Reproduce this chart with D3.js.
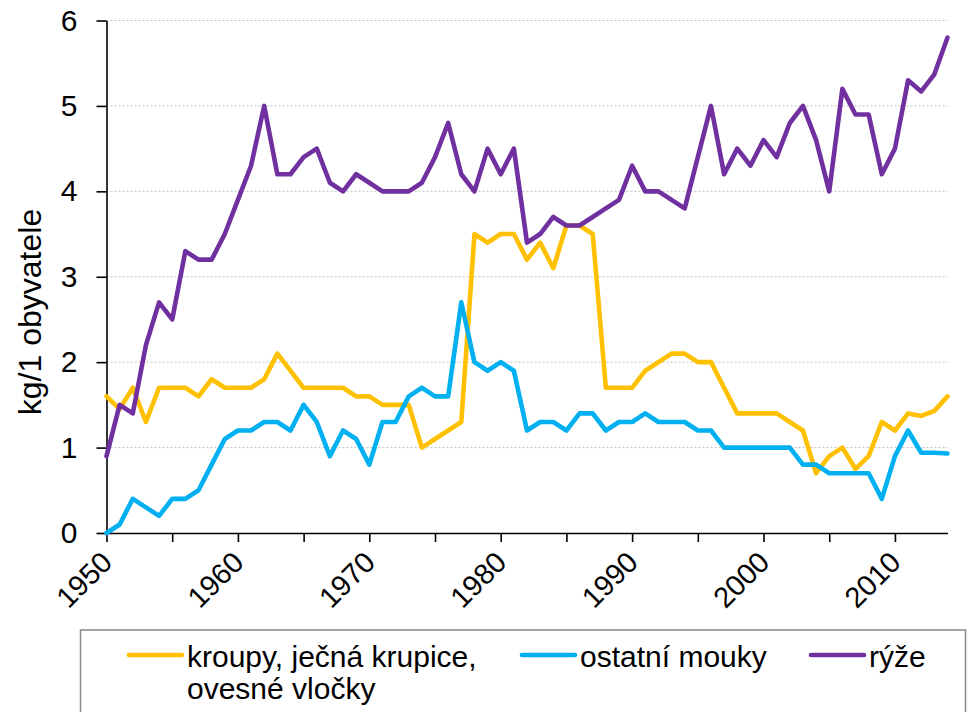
<!DOCTYPE html>
<html>
<head>
<meta charset="utf-8">
<script src="https://cdn.jsdelivr.net/npm/d3@7"></script>
<style>
    body { margin: 0; background: #fff; }
    svg { display: block; font-family: Arial, "Liberation Sans", sans-serif; }
    .grid line { stroke: #c0c0c0; stroke-dasharray: 2,2; }
    .axis path, .axis line { stroke: #000; stroke-width: 1.6; }
    .axis text { fill: #000; }
    .series { fill: none; stroke-width: 4.6; stroke-linejoin: round; stroke-linecap: round; }
</style>
</head>
<body>
<svg class="chart" width="968" height="712"></svg>
<script>
//Years on the x axis
var years = [
    1950, 1951, 1952, 1953, 1954, 1955, 1956, 1957, 1958, 1959,
    1960, 1961, 1962, 1963, 1964, 1965, 1966, 1967, 1968, 1969,
    1970, 1971, 1972, 1973, 1974, 1975, 1976, 1977, 1978, 1979,
    1980, 1981, 1982, 1983, 1984, 1985, 1986, 1987, 1988, 1989,
    1990, 1991, 1992, 1993, 1994, 1995, 1996, 1997, 1998, 1999,
    2000, 2001, 2002, 2003, 2004, 2005, 2006, 2007, 2008, 2009,
    2010, 2011, 2012, 2013, 2014
];

//kroupy, jecna krupice, ovesne vlocky
var kroupy = [
    1.6, 1.45, 1.7, 1.3, 1.7, 1.7, 1.7, 1.6, 1.8, 1.7,
    1.7, 1.7, 1.8, 2.1, 1.9, 1.7, 1.7, 1.7, 1.7, 1.6,
    1.6, 1.5, 1.5, 1.5, 1.0, 1.1, 1.2, 1.3, 3.5, 3.4,
    3.5, 3.5, 3.2, 3.4, 3.1, 3.6, 3.6, 3.5, 1.7, 1.7,
    1.7, 1.9, 2.0, 2.1, 2.1, 2.0, 2.0, 1.7, 1.4, 1.4,
    1.4, 1.4, 1.3, 1.2, 0.7, 0.9, 1.0, 0.75, 0.9, 1.3,
    1.2, 1.4, 1.37, 1.43, 1.6
];

//ostatni mouky
var mouky = [
    0.0, 0.1, 0.4, 0.3, 0.2, 0.4, 0.4, 0.5, 0.8, 1.1,
    1.2, 1.2, 1.3, 1.3, 1.2, 1.5, 1.3, 0.9, 1.2, 1.1,
    0.8, 1.3, 1.3, 1.6, 1.7, 1.6, 1.6, 2.7, 2.0, 1.9,
    2.0, 1.9, 1.2, 1.3, 1.3, 1.2, 1.4, 1.4, 1.2, 1.3,
    1.3, 1.4, 1.3, 1.3, 1.3, 1.2, 1.2, 1.0, 1.0, 1.0,
    1.0, 1.0, 1.0, 0.8, 0.8, 0.7, 0.7, 0.7, 0.7, 0.4,
    0.9, 1.2, 0.94, 0.94, 0.93
];

//ryze
var ryze = [
    0.9, 1.5, 1.4, 2.2, 2.7, 2.5, 3.3, 3.2, 3.2, 3.5,
    3.9, 4.3, 5.0, 4.2, 4.2, 4.4, 4.5, 4.1, 4.0, 4.2,
    4.1, 4.0, 4.0, 4.0, 4.1, 4.4, 4.8, 4.2, 4.0, 4.5,
    4.2, 4.5, 3.4, 3.5, 3.7, 3.6, 3.6, 3.7, 3.8, 3.9,
    4.3, 4.0, 4.0, 3.9, 3.8, 4.4, 5.0, 4.2, 4.5, 4.3,
    4.6, 4.4, 4.8, 5.0, 4.6, 4.0, 5.2, 4.9, 4.9, 4.2,
    4.5, 5.3, 5.17, 5.37, 5.8
];

//Series names and colors, in legend order
var seriesNames = ["kroupy, ječná krupice,\novesné vločky", "ostatní mouky", "rýže"];
var seriesColors = ["#FFC000", "#00B0F0", "#7030A0"];
var seriesValues = [kroupy, mouky, ryze];

//Tick labels
var yTicks = [0, 1, 2, 3, 4, 5, 6];
var xTicks = [1950, 1955, 1960, 1965, 1970, 1975, 1980, 1985, 1990, 1995, 2000, 2005, 2010];
var yLabel = "kg/1 obyvatele";

//Plot area (window.top is taken, so own names)
var plotLeft = 106.5, plotRight = 947.5, plotTop = 20.5, plotBottom = 533;

var svg = d3.select(".chart");

var x = d3.scaleLinear().domain([1950, 2014]).range([plotLeft, plotRight]);
var y = d3.scaleLinear().domain([0, 6]).range([plotBottom, plotTop]);

//Dotted horizontal gridlines
svg.append("g")
    .attr("class", "grid")
    .selectAll("line")
    .data(yTicks.slice(1))
    .enter().append("line")
    .attr("x1", plotLeft)
    .attr("x2", plotRight)
    .attr("y1", function(d){ return y(d); })
    .attr("y2", function(d){ return y(d); });

//Y axis
var yAxis = svg.append("g")
    .attr("class", "axis")
    .attr("transform", "translate(" + plotLeft + ",0)")
    .call(d3.axisLeft(y).tickValues(yTicks).tickFormat(d3.format("d"))
        .tickSize(10).tickPadding(19).tickSizeOuter(0));
yAxis.selectAll("text").style("font-size", "30px");

//X axis, ticks every 5 years but labels only every decade
var xAxis = svg.append("g")
    .attr("class", "axis")
    .attr("transform", "translate(0," + plotBottom + ")")
    .call(d3.axisBottom(x).tickValues(xTicks).tickSize(9).tickSizeOuter(0)
        .tickFormat(function(d){ return d % 10 === 0 ? d : ""; }));
xAxis.selectAll("text")
    .style("font-size", "29px")
    .attr("text-anchor", "end")
    .attr("x", 0)
    .attr("y", 0)
    .attr("dy", null)
    .attr("transform", "translate(7,31) rotate(-45)");

//Rotated y axis title
svg.append("text")
    .attr("transform", "translate(41,312) rotate(-90)")
    .attr("text-anchor", "middle")
    .style("font-size", "32px")
    .text(yLabel);

//The lines themselves
var line = d3.line()
    .x(function(d, i){ return x(years[i]); })
    .y(function(d){ return y(d); });

seriesValues.forEach(function(values, i){
    svg.append("path")
        .datum(values)
        .attr("class", "series")
        .attr("stroke", seriesColors[i])
        .attr("d", line);
});

//Legend box, its bottom runs off the picture
svg.append("rect")
    .attr("x", 80.5)
    .attr("y", 630)
    .attr("width", 885)
    .attr("height", 100)
    .attr("fill", "#fff")
    .attr("stroke", "#888")
    .attr("stroke-width", 1.5);

var legendX = [129, 522, 811];
seriesNames.forEach(function(name, i){
    svg.append("line")
        .attr("x1", legendX[i])
        .attr("x2", legendX[i] + 53)
        .attr("y1", 655)
        .attr("y2", 655)
        .attr("stroke", seriesColors[i])
        .attr("stroke-width", 4.6)
        .attr("stroke-linecap", "round");
    var label = svg.append("text")
        .attr("x", legendX[i] + 58)
        .attr("y", 667)
        .style("font-size", "30px");
    name.split("\n").forEach(function(part, j){
        label.append("tspan")
            .attr("x", legendX[i] + 58)
            .attr("dy", j === 0 ? 0 : 32)
            .text(part);
    });
});
</script>
</body>
</html>
